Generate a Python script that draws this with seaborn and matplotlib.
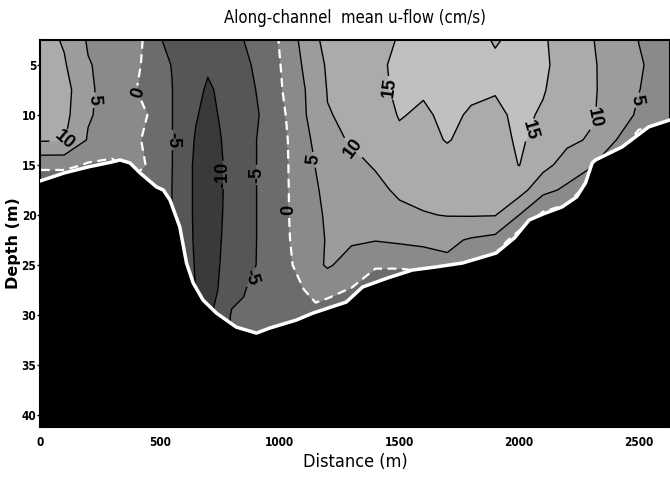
import numpy as np
import seaborn as sns
import matplotlib.pyplot as plt
from matplotlib import font_manager

# grid of the section
distance = [0, 100, 200, 300, 400, 450, 500, 550, 600, 650, 700, 750, 800, 850,
            900, 950, 1000, 1050, 1100, 1150, 1200, 1300, 1400, 1500, 1600, 1700,
            1800, 1900, 2000, 2100, 2200, 2300, 2400, 2500, 2630]
depth = [2.5, 5, 7.5, 10, 12.5, 15, 17.5, 20, 22.5, 25, 27.5, 30, 32.5]

# mean u-flow (cm/s), one row per depth
u_02p5 = [12, 9.5, 4.5, 3.5, 2.5, -2, -4.8, -6, -6.5, -8, -8.8, -8.5, -7, -5, -4, -2.5, 0.3, 3.2, 6.5, 9.5, 11, 12, 13.5, 15.3, 16.5, 17, 17, 14.5, 16.5, 15.5, 13, 10.3, 8, 4.9, 2.5]
u_05p0 = [12.5, 10.5, 5.3, 3.5, 1.5, -2.2, -4, -5.1, -7, -8.5, -9.5, -9, -7.5, -5.8, -4.5, -3, -0.2, 2.5, 5.5, 8.5, 10.5, 12, 14, 16, 16.5, 17, 16.8, 16, 16.5, 15.8, 13, 10.5, 8.5, 5.5, 2.5]
u_07p5 = [12.5, 12, 5.6, 3.5, 0.15, -2.5, -3.8, -4.9, -7, -9, -10.5, -9.5, -7.8, -6.5, -5, -3.5, -0.6, 2, 4.6, 7.5, 10.2, 11.5, 13.5, 16, 15.5, 16.5, 15.8, 15.3, 16.3, 15.3, 12.8, 10.6, 8.3, 5.1, 2.5]
u_10p0 = [12, 11.5, 5.4, 3.5, 2, -0.1, -3.5, -4.9, -7, -9.6, -11.5, -9.7, -8, -7, -5.4, -4, -1.2, 1.2, 4.5, 6.7, 9.8, 10.7, 12.5, 15.3, 14.3, 16, 14.5, 14, 16, 14.5, 12.2, 10.6, 7.5, 4.3, 2]
u_12p5 = [10.5, 10.3, 4.6, 3, 1.5, -2, -3.5, -4.9, -7, -10.5, -12, -10.3, -8, -6.8, -5.1, -3.7, -1.5, 0.7, 3.8, 5.8, 8.5, 10.5, 11.5, 14, 13.5, 15.3, 13.5, 13.5, 15.6, 13.5, 11, 9.5, 5.5, -3, -3]
u_15p0 = [1.5, 1.5, -0.5, -1, 2, -0.5, -3.5, -4.9, -7.5, -11, -12.5, -10.8, -8, -6.5, -5.1, -3.7, -1.6, 0.6, 3.2, 5.1, 7, 8.5, 10.5, 12.5, 12.5, 13, 12.8, 13, 15.1, 11.5, 8, 6, -3, -3, -3]
u_17p5 = [-6, -6, -5, -5, -3, -4, -4, -5, -7.5, -11, -12.5, -10.8, -8, -6.5, -5.1, -3.7, -1.6, 0.5, 3, 4.6, 6, 7.3, 8.5, 11, 11.5, 11.5, 11.8, 12, 12, 6.5, 4, -3, -3, -3, -3]
u_20p0 = [-6, -6, -5, -5, -3, -4, -4.5, -5, -7.5, -11, -12.5, -10.6, -8, -6.5, -5.1, -3.7, -1.8, 0.5, 2.8, 4.3, 5.5, 6.5, 7, 8.5, 9.7, 10.2, 10.3, 10.2, 5, -1, -3, -3, -3, -3, -3]
u_22p5 = [-6, -6, -5, -5, -3, -4, -5, -5, -7.5, -10.8, -12.5, -10.3, -8, -6.5, -5.1, -3.7, -2, 0.3, 2.6, 4, 5.3, 5.6, 5.2, 5.8, 6.5, 6, 4.5, 3.5, -3, -3, -3, -3, -3, -3, -3]
u_25p0 = [-6, -6, -5, -5, -3, -4, -5, -5, -7, -10.5, -12, -10, -7.8, -6, -5.05, -3.5, -2.2, -0.2, 2.3, 3.8, 5.6, 3, 0.5, 0.5, 1, 4, 1.5, -3, -3, -3, -3, -3, -3, -3, -3]
u_27p5 = [-6, -6, -5, -5, -3, -4, -5, -5, -7, -10.1, -11.5, -9.7, -6.5, -5.3, -3.5, -3, -2.5, -1.5, -0.1, 1.5, 1, -0.3, -3, -3, -3, -3, -3, -3, -3, -3, -3, -3, -3, -3, -3]
u_30p0 = [-6, -6, -5, -5, -3, -4, -5, -5, -7, -9, -10.5, -9, -4.5, -4.2, -3.5, -3, -2.5, -2, -1.5, -1.5, -2, -3, -3, -3, -3, -3, -3, -3, -3, -3, -3, -3, -3, -3, -3]
u_32p5 = [-6, -6, -5, -5, -3, -4, -5, -5, -7, -9, -10, -9, -4, -4, -3.5, -3, -2.5, -2, -2, -2, -2, -3, -3, -3, -3, -3, -3, -3, -3, -3, -3, -3, -3, -3, -3]

# channel bottom
bottom_dist = [0, 100, 200, 300, 333, 375, 417, 486, 514, 542, 583, 611, 639, 680,
               736, 819, 903, 958, 1069, 1139, 1278, 1346, 1450, 1554, 1650, 1763,
               1904, 1980, 2042, 2100, 2179, 2240, 2277, 2305, 2319, 2430, 2541, 2630]
bottom_depth = [16.6, 15.8, 15.2, 14.7, 14.5, 14.8, 15.8, 17.2, 17.5, 18.5, 21.2, 24.8,
                26.8, 28.5, 29.8, 31.2, 31.8, 31.3, 30.5, 29.8, 28.7, 27.2, 26.3, 25.5,
                25.2, 24.8, 23.8, 22.3, 20.5, 19.9, 19.2, 18.2, 16.8, 14.8, 14.5, 13.2,
                11.2, 10.5]

U = np.array([u_02p5, u_05p0, u_07p5, u_10p0, u_12p5, u_15p0, u_17p5, u_20p0,
              u_22p5, u_25p0, u_27p5, u_30p0, u_32p5])

sns.set_theme(style='ticks')

# pick a narrow face if one is installed
fonts = font_manager.fontManager.ttflist
names = {f.name for f in fonts}
narrow = 'Liberation Sans'
for cand in ['Liberation Sans Narrow', 'DejaVu Sans Condensed', 'Arial Narrow']:
    if cand in names:
        narrow = cand
        break
if narrow == 'Liberation Sans' and any(f.name == 'DejaVu Sans' and 'condensed' in str(f.stretch)
                                       for f in fonts):
    narrow = 'DejaVu Sans'
    plt.rcParams['font.stretch'] = 'condensed'
plt.rcParams['font.family'] = [narrow, 'DejaVu Sans']
for k in ['text.color', 'axes.labelcolor', 'xtick.color', 'ytick.color']:
    plt.rcParams[k] = 'black'

fig, ax = plt.subplots(figsize=(6.7, 4.86), dpi=100)
fig.subplots_adjust(left=0.06, right=1.0, top=0.918, bottom=0.121)

levels = [-30, -10, -5, 0, 5, 10, 15, 30]
shades = ['#3a3a3a', '#565656', '#6c6c6c', '#8a8a8a', '#9c9c9c', '#ababab', '#c0c0c0']
ax.contourf(distance, depth, U, levels=levels, colors=shades)
cs = ax.contour(distance, depth, U, levels=[-10, -5, 5, 10, 15],
                colors='black', linewidths=1, linestyles='solid')
cs0 = ax.contour(distance, depth, U, levels=[0], colors='white',
                 linewidths=1.6, linestyles=[(0, (4, 2.5))])

lab = ax.clabel(cs, fmt='%d', fontsize=13, colors='black', inline=True,
                manual=[(113, 12.8), (200, 8.5), (525, 12.5), (780, 16),
                        (915, 16), (896, 26.3), (1137, 14.5), (1312, 13.2),
                        (1458, 7.3), (2042, 11.5), (2304, 10.3), (2487, 8.5)])
lab0 = ax.clabel(cs0, fmt='%d', fontsize=13, colors='black', inline=True,
                 manual=[(430, 7.7), (1054, 19.5)])
for t in lab + lab0:
    t.set_fontweight('bold')
    t.set_family(['Liberation Sans', 'DejaVu Sans'])
    t.set_fontstretch('normal')

# bathymetry
ax.fill_between(bottom_dist, bottom_depth, 45, color='black', zorder=3)
sns.lineplot(x=bottom_dist, y=bottom_depth, color='white', linewidth=2.5,
             ax=ax, zorder=4)

ax.set_xlim(0, 2630)
ax.set_ylim(41.2, 2.5)
ax.set_xticks([0, 500, 1000, 1500, 2000, 2500])
ax.set_yticks([5, 10, 15, 20, 25, 30, 35, 40])
ax.tick_params(labelsize=8.5, length=2, width=1, pad=0.8)
for t in ax.get_xticklabels() + ax.get_yticklabels():
    t.set_fontweight('bold')
ax.tick_params(axis='x', length=0, pad=6)

ax.set_title('Along-channel  mean u-flow (cm/s)', fontsize=12, pad=12)
ax.set_xlabel('Distance (m)', fontsize=13, labelpad=3)
ax.set_ylabel('Depth (m)', fontsize=11.5, fontweight='bold',
              family=['DejaVu Sans'], fontstretch='normal')
ax.yaxis.set_label_coords(-0.031, 0.474)
for s in ax.spines.values():
    s.set_color('black')
    s.set_linewidth(1.5)

fig.savefig('out.png', dpi=100)
